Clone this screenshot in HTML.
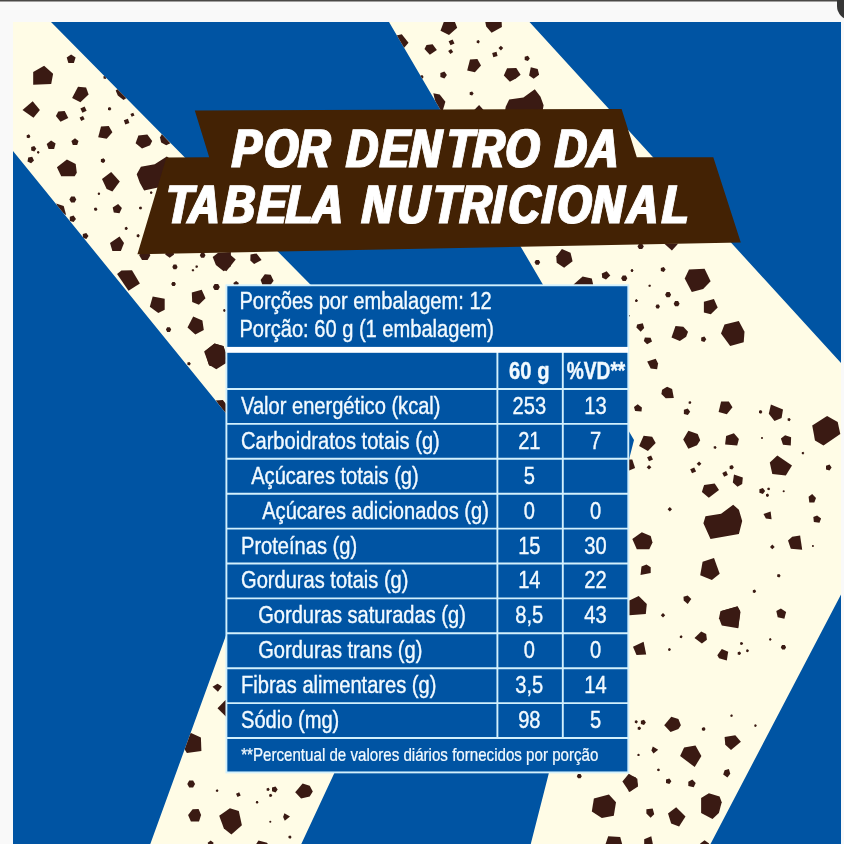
<!DOCTYPE html>
<html lang="pt-BR">
<head>
<meta charset="utf-8">
<title>Por dentro da tabela nutricional</title>
<style>
html,body{margin:0;padding:0;background:#f9f9f9;}
body{width:844px;height:844px;overflow:hidden;}
svg{display:block;}
text{font-family:"Liberation Sans",sans-serif;fill:#fff;}
.t,.fn{fill:#f2faff;stroke:#f2faff;stroke-width:0.4px;}
.t{font-size:24.6px;}
.b{font-weight:bold;}
.ttl{font-weight:bold;font-style:italic;font-size:55.7px;}
.fn{font-size:17.9px;stroke-width:0.25px;}
</style>
</head>
<body>
<svg width="844" height="844" viewBox="0 0 844 844">
<rect x="0" y="0" width="844" height="844" fill="#f9f9f9"/>
<rect x="0" y="0" width="844" height="1.5" fill="#4a4947"/>
<path d="M837,0 L837,6 A14,14 0 0 0 851,20 L860,20 L860,0 Z" fill="#363636"/>
<defs><clipPath id="clip"><rect x="13" y="22" width="828" height="822"/></clipPath></defs>
<g clip-path="url(#clip)">
<rect x="13" y="22" width="828" height="822" fill="#0054a3"/>
<polygon points="13,22 51,22 481.3,457.5 301.3,844 150.3,844 281.7,482 13,151" fill="#fffce6"/>
<polygon points="389,22 529.5,22 841,363 900,420 900,480 841,594.5 710.5,844 530.75,844 634,440" fill="#fffce6"/>
<defs><clipPath id="st"><polygon points="13,22 51,22 481.3,457.5 301.3,844 150.3,844 281.7,482 13,151"/><polygon points="389,22 529.5,22 841,363 900,420 900,480 841,594.5 710.5,844 530.75,844 634,440"/></clipPath></defs>
<g fill="#3a1a13" clip-path="url(#st)">
<polygon points="71.1,54.4 75.6,57.6 73.9,62.9 68.4,62.9 66.7,57.6"/>
<polygon points="44.1,65.8 53.1,73.7 51.2,84.0 33.2,84.7 33.2,71.9"/>
<polygon points="78.0,86.8 86.1,87.5 88.6,94.6 80.4,102.2 72.1,97.9"/>
<polygon points="32.7,101.3 39.9,109.9 33.5,117.8 22.5,109.9"/>
<polygon points="58.3,111.4 64.7,111.0 68.3,118.1 60.5,121.7 55.9,116.0"/>
<polygon points="86.6,110.7 82.4,112.7 80.4,108.5 84.6,106.5"/>
<polygon points="84.6,119.3 81.2,120.9 79.6,117.5 83.0,115.9"/>
<polygon points="111.4,108.9 110.1,110.6 108.0,110.0 108.0,107.8 110.1,107.1"/>
<polygon points="106.9,77.3 105.6,79.1 103.5,78.4 103.5,76.2 105.6,75.5"/>
<polygon points="129.4,123.0 125.3,124.5 123.8,120.3 127.9,118.8"/>
<polygon points="101.0,126.4 108.8,125.9 112.4,132.3 106.7,138.7 98.2,137.3"/>
<polygon points="30.1,136.3 28.8,138.1 26.7,137.4 26.7,135.2 28.8,134.5"/>
<polygon points="30.4,136.4 29.1,138.2 27.0,137.5 27.0,135.3 29.1,134.6"/>
<polygon points="36.3,148.8 34.3,151.4 31.2,150.4 31.2,147.1 34.3,146.1"/>
<polygon points="39.6,152.3 38.6,153.7 37.0,153.1 37.0,151.5 38.6,151.0"/>
<polygon points="34.0,160.5 31.1,163.3 27.5,161.4 28.2,157.4 32.2,156.8"/>
<polygon points="55.6,143.6 54.1,148.9 48.6,149.1 46.7,143.9 51.1,140.5"/>
<polygon points="75.0,138.3 78.5,140.9 77.2,145.1 72.8,145.1 71.4,140.9"/>
<polygon points="66.9,159.4 75.7,164.1 76.8,172.7 74.7,176.2 61.2,176.2 56.9,167.3"/>
<polygon points="105.2,160.6 103.6,162.8 100.9,161.9 100.9,159.2 103.6,158.3"/>
<polygon points="111.2,171.9 119.8,181.5 112.4,191.4 106.7,189.0 102.0,179.1"/>
<circle cx="98.9" cy="193.8" r="1.19"/>
<polygon points="76.3,199.4 74.6,202.4 71.1,202.4 69.4,199.4 71.1,196.4 74.6,196.4"/>
<polygon points="56.2,203.6 63.7,206.1 66.2,215.3 58.3,209.6"/>
<polygon points="76.0,218.9 73.6,222.1 69.8,220.9 69.8,216.8 73.6,215.6"/>
<polygon points="97.5,209.2 96.2,211.0 94.1,210.3 94.1,208.1 96.2,207.4"/>
<polygon points="118.1,203.9 121.9,207.9 119.5,213.2 113.8,212.5 112.7,207.5"/>
<polygon points="127.9,228.4 126.7,230.0 124.8,229.4 124.8,227.4 126.7,226.8"/>
<polygon points="88.5,235.9 86.3,238.9 82.8,237.8 82.8,234.1 86.3,232.9"/>
<polygon points="119.5,236.6 124.0,243.0 120.9,250.9 112.4,250.9 110.0,243.0"/>
<polygon points="115.7,90.6 121.4,86.3 129.2,96.3 123.5,100.1 117.8,95.5"/>
<polygon points="134.5,115.5 131.7,116.8 130.4,114.0 133.2,112.7"/>
<polygon points="138.4,135.4 147.3,134.6 152.2,141.0 150.1,145.3 142.0,148.4 135.6,143.2"/>
<polygon points="161.9,133.9 170.4,143.2 166.2,145.3 161.2,142.5 160.0,137.5"/>
<polygon points="105.2,160.7 104.1,162.4 102.1,162.4 101.1,160.7 102.1,158.9 104.1,158.9"/>
<polygon points="136.7,174.2 140.9,166.8 154.7,164.2 166.8,156.4 173.9,161.4 168.2,187.0 156.9,187.7 144.1,190.5 139.8,182.7"/>
<polygon points="152.6,192.7 151.6,194.0 150.0,193.5 150.0,191.8 151.6,191.3"/>
<polygon points="142.2,208.0 141.1,209.6 139.1,209.0 139.1,207.0 141.1,206.4"/>
<polygon points="139.8,235.7 138.6,237.4 136.7,236.7 136.7,234.7 138.6,234.1"/>
<polygon points="150.4,255.2 147.6,260.1 142.0,260.1 139.2,255.2 142.0,250.3 147.6,250.3"/>
<polygon points="169.7,257.8 165.2,254.5 166.9,249.3 172.4,249.3 174.1,254.5"/>
<polygon points="205.5,255.2 204.1,257.7 201.2,257.7 199.8,255.2 201.2,252.8 204.1,252.8"/>
<polygon points="177.6,266.9 176.3,269.2 173.6,269.2 172.3,266.9 173.6,264.6 176.3,264.6"/>
<polygon points="198.1,266.6 197.1,267.9 195.5,267.4 195.5,265.8 197.1,265.2"/>
<polygon points="212.7,257.1 218.1,252.8 230.9,252.1 230.9,266.3 223.7,271.3 215.9,264.9"/>
<polygon points="194.3,270.3 193.3,271.6 191.8,271.1 191.8,269.5 193.3,269.0"/>
<polygon points="121.4,270.6 132.0,270.3 139.9,283.4 128.5,290.8 117.1,274.1"/>
<polygon points="175.9,284.1 174.7,286.1 172.4,286.1 171.2,284.1 172.4,282.1 174.7,282.1"/>
<polygon points="219.8,287.1 218.1,290.1 214.6,290.1 212.9,287.1 214.6,284.1 218.1,284.1"/>
<polygon points="191.8,292.6 201.7,289.8 205.5,298.3 198.9,304.7 192.2,301.9"/>
<polygon points="152.7,296.5 164.7,298.7 164.7,309.7 158.3,313.0 149.8,306.8"/>
<polygon points="226.0,310.4 224.9,311.9 223.2,311.3 223.2,309.5 224.9,308.9"/>
<polygon points="193.2,316.4 202.4,320.4 203.8,330.0 195.3,334.6 187.5,327.5"/>
<polygon points="171.2,329.6 169.9,331.9 167.2,331.9 165.9,329.6 167.2,327.3 169.9,327.3"/>
<polygon points="214.5,343.5 223.7,346.2 225.9,358.7 220.9,365.9 209.5,365.9 204.1,351.6"/>
<polygon points="190.8,363.7 189.5,365.5 187.4,364.8 187.4,362.6 189.5,361.9"/>
<polygon points="217.4,254.0 228.0,252.8 235.7,259.4 226.3,271.2 218.6,266.5"/>
<polygon points="250.5,254.6 256.5,253.4 261.6,260.0 254.1,263.9 250.3,260.5"/>
<polygon points="264.8,274.2 270.7,274.8 273.6,280.7 270.7,284.8 262.4,284.8 260.6,280.1"/>
<polygon points="236.1,281.0 238.8,283.0 237.8,286.2 234.4,286.2 233.4,283.0"/>
<polygon points="217.5,683.7 222.0,686.5 217.9,691.8 212.5,686.8"/>
<polygon points="225.3,700.3 229.6,698.9 229.6,720.2 217.5,708.2"/>
<polygon points="190.5,732.8 200.9,737.5 201.4,751.0 186.9,753.1 183.4,747.5"/>
<polygon points="195.1,784.0 193.1,787.4 189.2,787.4 187.3,784.0 189.2,780.6 193.1,780.6"/>
<polygon points="218.5,790.7 217.5,792.0 215.9,791.5 215.9,789.9 217.5,789.3"/>
<polygon points="240.7,795.5 237.5,797.0 236.0,793.8 239.2,792.3"/>
<circle cx="257.0" cy="802.3" r="1.05"/>
<polygon points="192.6,809.3 198.6,809.0 201.1,815.0 199.0,821.4 190.9,821.4 188.1,815.0"/>
<polygon points="229.9,808.3 238.8,811.0 241.9,825.2 231.4,834.6 223.9,828.5 219.2,815.7"/>
<polygon points="210.7,840.6 213.6,842.7 212.5,846.2 208.8,846.2 207.7,842.7"/>
<polygon points="269.7,789.4 268.5,791.0 266.6,790.4 266.6,788.4 268.5,787.8"/>
<polygon points="277.7,789.4 275.5,792.4 272.0,791.2 272.0,787.6 275.5,786.4"/>
<polygon points="272.3,795.4 271.1,797.0 269.2,796.4 269.2,794.4 271.1,793.7"/>
<circle cx="257.1" cy="802.3" r="1.19"/>
<polygon points="302.6,783.4 309.7,785.8 312.8,791.5 309.7,796.5 301.1,798.6 295.2,792.2"/>
<polygon points="284.4,813.3 290.0,816.4 284.8,820.7 283.1,817.1"/>
<circle cx="270.3" cy="821.8" r="1.05"/>
<polygon points="291.6,837.0 290.4,838.7 288.5,838.0 288.5,836.0 290.4,835.4"/>
<polygon points="258.5,840.6 267.0,842.7 268.4,844.9 255.6,844.9"/>
<polygon points="205.0,351.3 214.5,343.6 223.4,346.0 225.8,352.5 225.8,363.2 216.3,369.3 208.6,364.4"/>
<polygon points="215.7,400.5 222.8,399.9 227.5,405.8 227.5,415.3 224.0,411.8"/>
<polygon points="396.4,35.6 401.8,34.2 408.5,42.7 404.2,47.7 399.2,44.2"/>
<polygon points="444.0,21.4 454.7,21.4 457.2,27.8 449.0,34.9 440.5,30.7"/>
<polygon points="485.2,21.4 501.6,21.4 501.9,27.1 491.6,32.8 486.2,26.4"/>
<polygon points="454.5,43.4 450.5,45.3 448.6,41.3 452.6,39.4"/>
<polygon points="453.2,52.0 450.3,54.0 448.2,51.1 451.1,49.1"/>
<polygon points="426.5,44.9 432.6,44.2 436.9,50.1 429.8,54.8 424.5,49.1"/>
<polygon points="479.8,41.8 478.7,43.4 476.7,42.8 476.7,40.7 478.7,40.1"/>
<polygon points="503.2,48.0 500.9,50.4 498.5,48.0 500.9,45.7"/>
<polygon points="497.6,56.1 493.3,57.3 492.2,53.0 496.5,51.8"/>
<polygon points="470.0,59.5 477.4,59.1 481.0,65.5 474.9,72.3 467.2,70.5"/>
<polygon points="446.9,75.0 444.4,78.4 440.4,77.1 440.4,72.9 444.4,71.6"/>
<polygon points="423.6,76.9 422.3,78.7 420.2,78.0 420.2,75.8 422.3,75.1"/>
<polygon points="473.6,93.5 472.1,95.6 469.7,94.8 469.7,92.2 472.1,91.4"/>
<polygon points="433.3,93.2 439.7,94.6 445.4,101.8 442.6,111.0 437.6,111.0"/>
<polygon points="473.2,111.0 479.1,105.0 484.5,111.0"/>
<polygon points="529.8,58.4 527.9,61.1 524.7,60.0 524.7,56.7 527.9,55.7"/>
<polygon points="507.1,68.3 516.3,68.1 520.6,74.7 516.3,78.3 509.9,81.8 503.8,75.5"/>
<polygon points="530.8,67.2 537.7,69.1 539.1,74.7 533.7,78.7 529.1,75.5"/>
<polygon points="505.7,106.7 509.2,99.6 523.4,97.5 534.8,89.2 540.5,96.8 543.6,105.3 542.6,111.0 505.0,111.0"/>
<polygon points="540.2,262.3 538.8,264.7 535.9,264.7 534.5,262.3 535.9,259.9 538.8,259.9"/>
<polygon points="561.9,248.9 570.5,252.8 572.6,261.3 564.1,267.7 556.7,262.7 556.3,256.3"/>
<polygon points="573.3,284.8 582.6,276.5 591.8,278.4 593.2,284.8"/>
<polygon points="601.8,273.4 606.7,271.3 610.3,275.5 606.0,279.4 602.2,277.7"/>
<polygon points="627.3,278.2 625.8,280.9 622.7,280.9 621.1,278.2 622.7,275.5 625.8,275.5"/>
<polygon points="633.4,270.5 632.5,271.9 630.9,271.4 630.9,269.7 632.5,269.2"/>
<polygon points="637.7,300.7 636.7,302.0 635.2,301.5 635.2,299.9 636.7,299.3"/>
<circle cx="629.2" cy="315.8" r="0.75"/>
<polygon points="643.8,246.4 642.2,249.1 639.1,249.1 637.5,246.4 639.1,243.7 642.2,243.7"/>
<polygon points="664.1,243.5 678.3,243.5 671.9,250.4"/>
<polygon points="665.6,269.5 663.8,272.1 660.8,271.1 660.8,268.0 663.8,267.0"/>
<circle cx="632.0" cy="270.5" r="1.19"/>
<polygon points="651.0,285.8 650.1,287.1 648.5,286.6 648.5,284.9 650.1,284.4"/>
<polygon points="637.8,300.7 636.8,302.0 635.3,301.5 635.3,299.9 636.8,299.3"/>
<polygon points="689.0,269.5 704.6,268.8 710.6,281.2 703.2,289.0 691.8,291.9 684.7,278.4"/>
<polygon points="671.1,294.7 669.6,297.3 666.6,297.3 665.1,294.7 666.6,292.1 669.6,292.1"/>
<polygon points="679.6,303.7 678.1,306.2 675.1,306.2 673.7,303.7 675.1,301.1 678.1,301.1"/>
<polygon points="659.9,306.5 658.8,308.4 656.6,308.4 655.5,306.5 656.6,304.6 658.8,304.6"/>
<polygon points="703.9,301.8 713.9,299.0 717.7,307.5 710.8,314.3 703.9,312.5"/>
<polygon points="637.1,324.6 642.8,323.2 644.2,328.1 640.7,331.7 636.4,327.4"/>
<polygon points="644.9,337.4 650.6,337.7 652.0,341.4 647.1,344.2 643.8,340.9"/>
<polygon points="675.5,326.0 683.3,326.7 688.0,331.7 686.2,336.7 679.8,340.9 671.5,337.4"/>
<polygon points="706.3,339.2 704.4,341.9 701.2,340.9 701.2,337.6 704.4,336.5"/>
<polygon points="724.5,324.6 738.8,321.0 744.5,331.7 743.7,342.3 730.2,345.9 721.0,333.4"/>
<polygon points="762.4,411.9 761.1,413.7 759.0,413.0 759.0,410.8 761.1,410.1"/>
<polygon points="770.9,404.5 783.0,409.5 781.6,418.0 774.5,420.9 768.8,413.7"/>
<polygon points="647.2,361.4 655.7,358.8 658.1,363.5 657.1,369.2 650.7,368.5"/>
<polygon points="662.1,389.8 667.1,386.7 672.1,389.1 673.8,398.1 665.7,398.3 661.4,394.1"/>
<polygon points="634.0,406.9 637.7,404.3 641.9,407.6 641.5,411.4 635.1,411.1"/>
<polygon points="691.4,402.6 690.3,404.1 688.6,403.5 688.6,401.7 690.3,401.1"/>
<polygon points="690.2,411.8 687.8,415.1 683.9,413.9 683.9,409.8 687.8,408.6"/>
<polygon points="721.1,401.5 728.9,401.5 732.5,407.2 726.8,414.3 718.6,412.1"/>
<polygon points="643.6,435.7 652.2,436.7 655.7,443.1 647.9,450.9 639.1,446.0"/>
<polygon points="688.4,430.8 697.7,433.9 700.2,440.3 697.0,445.3 688.4,448.8 683.2,439.6"/>
<polygon points="726.1,436.0 733.9,433.2 738.9,438.9 737.2,445.5 725.1,444.5"/>
<polygon points="716.6,447.4 715.5,448.9 713.7,448.3 713.7,446.5 715.5,445.9"/>
<polygon points="653.0,459.4 649.0,461.3 647.1,457.3 651.1,455.4"/>
<polygon points="651.4,467.3 649.0,469.6 646.7,467.3 649.0,465.0"/>
<polygon points="628.0,459.5 632.3,459.5 635.1,468.0 628.0,470.9"/>
<polygon points="701.4,463.7 699.1,466.1 696.7,463.7 699.1,461.4"/>
<polygon points="733.9,467.3 732.2,469.5 729.6,468.7 729.6,465.9 732.2,465.1"/>
<polygon points="790.7,419.6 789.5,421.3 787.6,420.6 787.6,418.6 789.5,418.0"/>
<polygon points="827.1,415.9 837.7,422.0 840.3,434.1 823.5,445.5 815.0,440.5 812.2,425.6"/>
<circle cx="762.0" cy="438.0" r="1.05"/>
<polygon points="780.9,438.4 785.1,435.3 791.1,437.3 790.8,445.5 783.0,444.8"/>
<polygon points="804.3,453.0 803.3,454.4 801.8,453.9 801.8,452.2 803.3,451.7"/>
<polygon points="777.3,455.5 792.0,465.4 785.8,475.4 772.3,473.9 769.8,462.6"/>
<polygon points="831.6,467.5 829.5,470.5 826.0,469.4 826.0,465.7 829.5,464.6"/>
<polygon points="734.0,474.6 742.8,477.5 742.2,483.9 737.5,486.7 732.8,482.5"/>
<polygon points="765.1,491.0 762.9,494.0 759.4,492.8 759.4,489.2 762.9,488.0"/>
<polygon points="770.2,488.9 769.1,490.3 767.4,489.8 767.4,487.9 769.1,487.4"/>
<polygon points="769.1,495.3 767.9,496.9 766.0,496.3 766.0,494.2 767.9,493.6"/>
<circle cx="783.7" cy="491.3" r="1.05"/>
<polygon points="808.6,496.7 812.2,494.1 816.0,498.1 814.3,502.4 809.3,502.4"/>
<polygon points="696.1,471.4 692.0,473.3 690.2,469.3 694.2,467.4"/>
<polygon points="727.9,474.9 724.1,476.7 722.3,472.9 726.1,471.1"/>
<polygon points="704.1,484.9 714.7,483.5 719.0,489.9 708.8,497.7 701.9,492.0"/>
<polygon points="672.0,509.3 669.8,511.5 667.6,509.3 669.8,507.1"/>
<polygon points="705.5,516.2 721.1,513.7 733.2,504.8 738.9,509.8 742.2,521.1 738.9,533.9 710.5,538.9 703.4,523.3"/>
<polygon points="632.3,538.9 641.8,532.2 650.7,536.1 652.5,542.5 649.3,549.3 636.8,549.3"/>
<polygon points="702.6,561.7 714.0,558.1 719.7,573.7 711.9,580.0 700.2,575.2"/>
<polygon points="641.5,566.6 646.5,564.5 650.7,567.3 650.7,573.0 640.5,574.9"/>
<polygon points="763.5,514.0 770.6,511.4 771.6,519.2 765.9,518.5"/>
<polygon points="813.3,517.1 817.1,515.4 821.1,518.5 819.5,522.8 813.9,522.1"/>
<polygon points="774.7,547.0 772.3,549.3 770.0,547.0 772.3,544.6"/>
<polygon points="788.0,540.6 792.2,536.7 800.1,535.6 802.2,549.8 790.8,548.7"/>
<circle cx="812.9" cy="546.0" r="1.05"/>
<polygon points="780.6,575.7 779.3,577.5 777.2,576.8 777.2,574.6 779.3,573.9"/>
<polygon points="756.2,591.3 754.9,593.1 752.8,592.4 752.8,590.2 754.9,589.5"/>
<polygon points="776.3,610.9 780.9,608.5 786.1,612.1 784.4,618.8 777.7,617.3"/>
<polygon points="721.2,610.9 737.5,606.4 740.4,612.4 738.2,628.0 721.2,620.9"/>
<polygon points="629.4,600.6 638.7,596.0 646.8,604.1 645.8,614.1 629.4,615.2"/>
<polygon points="683.5,596.7 687.7,595.6 691.3,599.1 687.7,604.1 683.7,600.6"/>
<polygon points="665.2,615.2 663.0,617.4 660.8,615.2 663.0,613.0"/>
<polygon points="720.4,611.2 737.5,606.3 740.3,611.2 738.2,628.3 721.8,625.5 719.0,618.3"/>
<polygon points="694.5,638.0 701.2,631.6 706.2,634.0 706.9,639.7 701.9,643.6"/>
<polygon points="682.6,636.8 681.5,638.3 679.8,637.7 679.8,635.9 681.5,635.3"/>
<polygon points="670.9,649.6 669.9,651.1 668.1,650.5 668.1,648.7 669.9,648.1"/>
<polygon points="633.0,646.8 643.6,641.8 646.2,654.6 636.5,655.0"/>
<polygon points="743.2,643.5 742.0,645.1 740.1,644.5 740.1,642.5 742.0,641.9"/>
<polygon points="741.1,653.3 739.8,655.1 737.7,654.4 737.7,652.2 739.8,651.5"/>
<polygon points="749.0,650.8 747.9,652.2 746.2,651.7 746.2,649.8 747.9,649.3"/>
<polygon points="717.3,655.3 721.8,648.9 728.2,651.8 726.8,660.6 719.0,658.2"/>
<polygon points="771.6,639.5 770.6,640.8 769.1,640.3 769.1,638.7 770.6,638.1"/>
<polygon points="786.1,647.3 784.8,649.6 782.1,649.6 780.8,647.3 782.1,645.0 784.8,645.0"/>
<polygon points="732.9,715.7 732.0,717.0 730.4,716.5 730.4,714.9 732.0,714.3"/>
<polygon points="756.8,725.6 755.9,727.0 754.3,726.5 754.3,724.8 755.9,724.3"/>
<polygon points="645.9,722.4 644.0,725.0 640.9,724.0 640.9,720.7 644.0,719.7"/>
<polygon points="664.2,725.2 671.3,716.7 678.4,719.1 680.9,725.2 678.4,729.1 670.6,731.9"/>
<polygon points="705.6,729.1 704.2,731.0 701.9,730.2 701.9,727.9 704.2,727.1"/>
<polygon points="724.6,736.9 735.3,735.2 740.9,741.8 731.0,750.0 725.3,744.7"/>
<polygon points="652.8,746.5 658.2,749.7 653.5,753.6 651.4,750.4"/>
<polygon points="684.1,747.5 695.5,745.4 701.4,756.1 694.7,767.0 680.1,756.1"/>
<polygon points="660.0,769.9 659.0,771.3 657.2,770.8 657.2,768.9 659.0,768.4"/>
<polygon points="724.6,770.3 728.9,768.9 730.3,773.8 727.4,777.4 723.2,774.5"/>
<polygon points="671.4,781.2 669.4,784.1 666.0,783.0 666.0,779.5 669.4,778.4"/>
<polygon points="688.3,781.7 692.3,779.5 695.7,783.1 693.7,787.3 688.3,785.9"/>
<polygon points="641.1,728.3 639.8,730.1 637.7,729.4 637.7,727.2 639.8,726.5"/>
<circle cx="638.5" cy="754.9" r="1.19"/>
<polygon points="628.6,775.2 635.7,777.3 637.8,785.1 630.0,791.5 628.6,791.5"/>
<polygon points="701.1,797.9 708.9,793.2 719.6,796.5 721.7,802.2 718.9,812.9 712.5,819.0 701.1,812.9"/>
<polygon points="646.4,809.3 652.7,808.6 654.2,814.3 650.6,817.8 646.4,813.6"/>
<polygon points="676.2,807.2 685.5,816.4 679.1,826.4 671.2,823.5 668.0,813.6"/>
<polygon points="644.2,839.2 651.3,836.3 653.0,844.9 644.2,844.9"/>
<polygon points="704.6,840.2 709.1,843.4 707.4,848.6 701.9,848.6 700.2,843.4"/>
<polygon points="581.8,776.2 580.5,778.3 578.0,778.3 576.8,776.2 578.0,774.0 580.5,774.0"/>
<polygon points="622.4,781.6 628.8,773.8 637.3,778.7 638.0,786.6 629.5,792.0"/>
<polygon points="593.9,798.6 608.9,794.4 616.0,802.2 613.8,815.7 601.8,818.1 591.8,811.4"/>
<polygon points="608.2,836.3 620.2,837.0 622.4,844.9 605.3,844.9"/>
<polygon points="637.9,721.8 636.7,723.4 634.8,722.8 634.8,720.8 636.7,720.2"/>
</g>
<polygon points="194.8,110.4 621.6,108.9 636.8,157.3 713.3,157.3 740.8,242.6 137.4,254.2 166.4,157.4 209.2,157.2" fill="#432204"/>
<defs><filter id="fat" x="-5%" y="-20%" width="110%" height="140%"><feMorphology operator="dilate" radius="1 0"/></filter></defs>
<g filter="url(#fat)"><text class="ttl" style="font-size:54.22px" stroke="#fff" stroke-width="1" stroke-linejoin="miter" transform="translate(230.00,166.60) skewX(-2.3) scale(0.8000,1)" x="2.2 42.3 84.9 128.1 144.9 187.3 224.2 270.0 303.2 343.9 390.1 405.9 446.0" y="0">POR DENTRO DA</text></g>
<g filter="url(#fat)"><text class="ttl" style="font-size:54.22px" stroke="#fff" stroke-width="1" stroke-linejoin="miter" transform="translate(168.00,223.30) skewX(-2.3) scale(0.8000,1)" x="-3.6 25.1 68.8 111.3 146.8 179.0 222.1 242.0 286.6 330.4 364.4 404.8 425.0 466.8 486.2 529.8 573.1 617.2" y="0">TABELA NUTRICIONAL</text></g>
<rect x="226.4" y="285.3" width="401.9" height="487.1" fill="#0054a3"/>
<g stroke="#d2f0fd" stroke-width="1.9" fill="none">
<rect x="226.4" y="285.3" width="401.9" height="487.1"/>
<line x1="226.4" y1="389" x2="628.3" y2="389"/>
<line x1="226.4" y1="423.9" x2="628.3" y2="423.9"/>
<line x1="226.4" y1="458.8" x2="628.3" y2="458.8"/>
<line x1="226.4" y1="493.7" x2="628.3" y2="493.7"/>
<line x1="226.4" y1="528.6" x2="628.3" y2="528.6"/>
<line x1="226.4" y1="563.5" x2="628.3" y2="563.5"/>
<line x1="226.4" y1="598.4" x2="628.3" y2="598.4"/>
<line x1="226.4" y1="633.3" x2="628.3" y2="633.3"/>
<line x1="226.4" y1="668.2" x2="628.3" y2="668.2"/>
<line x1="226.4" y1="703.1" x2="628.3" y2="703.1"/>
<line x1="226.4" y1="738" x2="628.3" y2="738"/>
<line x1="497.4" y1="350" x2="497.4" y2="738"/>
<line x1="562.8" y1="350" x2="562.8" y2="738"/>
</g>
<rect x="226.4" y="346.9" width="401.9" height="5.9" fill="#ffffff"/>
<text class="t" text-anchor="start" transform="translate(239.4,309.4) scale(0.817,1)">Porções por embalagem: 12</text>
<text class="t" text-anchor="start" transform="translate(239.4,336.9) scale(0.817,1)">Porção: 60 g (1 embalagem)</text>
<text class="t b" text-anchor="middle" transform="translate(529.3,379) scale(0.82,1)">60 g</text>
<text class="t b" text-anchor="middle" transform="translate(596,379) scale(0.78,1)">%VD**</text>
<text class="t" text-anchor="start" transform="translate(241,413.9) scale(0.817,1)">Valor energético (kcal)</text>
<text class="t" text-anchor="middle" transform="translate(529.3,413.9) scale(0.817,1)">253</text>
<text class="t" text-anchor="middle" transform="translate(595.5,413.9) scale(0.817,1)">13</text>
<text class="t" text-anchor="start" transform="translate(241,448.8) scale(0.817,1)">Carboidratos totais (g)</text>
<text class="t" text-anchor="middle" transform="translate(529.3,448.8) scale(0.817,1)">21</text>
<text class="t" text-anchor="middle" transform="translate(595.5,448.8) scale(0.817,1)">7</text>
<text class="t" text-anchor="start" transform="translate(251.2,483.7) scale(0.817,1)">Açúcares totais (g)</text>
<text class="t" text-anchor="middle" transform="translate(529.3,483.7) scale(0.817,1)">5</text>
<text class="t" text-anchor="start" transform="translate(262.2,518.6) scale(0.817,1)">Açúcares adicionados (g)</text>
<text class="t" text-anchor="middle" transform="translate(529.3,518.6) scale(0.817,1)">0</text>
<text class="t" text-anchor="middle" transform="translate(595.5,518.6) scale(0.817,1)">0</text>
<text class="t" text-anchor="start" transform="translate(241,553.5) scale(0.817,1)">Proteínas (g)</text>
<text class="t" text-anchor="middle" transform="translate(529.3,553.5) scale(0.817,1)">15</text>
<text class="t" text-anchor="middle" transform="translate(595.5,553.5) scale(0.817,1)">30</text>
<text class="t" text-anchor="start" transform="translate(241,588.4) scale(0.817,1)">Gorduras totais (g)</text>
<text class="t" text-anchor="middle" transform="translate(529.3,588.4) scale(0.817,1)">14</text>
<text class="t" text-anchor="middle" transform="translate(595.5,588.4) scale(0.817,1)">22</text>
<text class="t" text-anchor="start" transform="translate(258.2,623.3) scale(0.817,1)">Gorduras saturadas (g)</text>
<text class="t" text-anchor="middle" transform="translate(529.3,623.3) scale(0.817,1)">8,5</text>
<text class="t" text-anchor="middle" transform="translate(595.5,623.3) scale(0.817,1)">43</text>
<text class="t" text-anchor="start" transform="translate(258.2,658.2) scale(0.817,1)">Gorduras trans (g)</text>
<text class="t" text-anchor="middle" transform="translate(529.3,658.2) scale(0.817,1)">0</text>
<text class="t" text-anchor="middle" transform="translate(595.5,658.2) scale(0.817,1)">0</text>
<text class="t" text-anchor="start" transform="translate(241,693.1) scale(0.817,1)">Fibras alimentares (g)</text>
<text class="t" text-anchor="middle" transform="translate(529.3,693.1) scale(0.817,1)">3,5</text>
<text class="t" text-anchor="middle" transform="translate(595.5,693.1) scale(0.817,1)">14</text>
<text class="t" text-anchor="start" transform="translate(241,728) scale(0.817,1)">Sódio (mg)</text>
<text class="t" text-anchor="middle" transform="translate(529.3,728) scale(0.817,1)">98</text>
<text class="t" text-anchor="middle" transform="translate(595.5,728) scale(0.817,1)">5</text>
<text class="fn" text-anchor="start" transform="translate(241.2,761.3) scale(0.845,1)">**Percentual de valores diários fornecidos por porção</text>
</g>
</svg>
</body>
</html>
